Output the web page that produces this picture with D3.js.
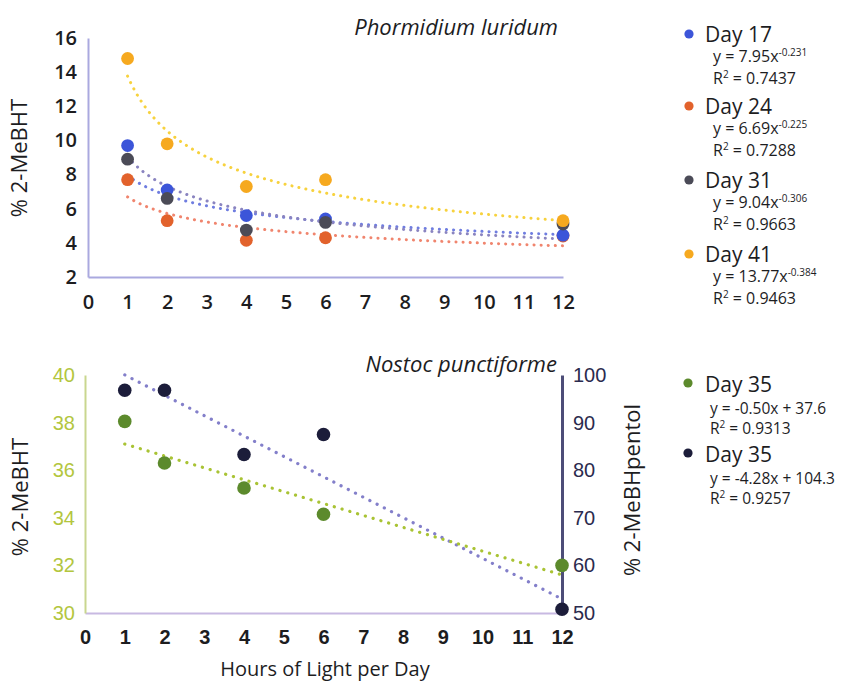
<!DOCTYPE html>
<html>
<head>
<meta charset="utf-8">
<script src="https://cdn.jsdelivr.net/npm/d3@7"></script>
<style>
  html, body { margin: 0; padding: 0; background: #ffffff; }
  svg { display: block; font-family: "Open Sans", "Noto Sans", sans-serif; }
</style>
</head>
<body>
<svg id="chart" width="847" height="683"></svg>
<script>
// ---- Phormidium luridum: % 2-MeBHT by hours of light, four sampling days ----
const hours = [1, 2, 4, 6, 12];
const phormSeries = ["Day 17", "Day 24", "Day 31", "Day 41"];
const day17 = [9.7, 7.1, 5.6, 5.4, 4.45];
const day24 = [7.7, 5.3, 4.15, 4.3, 4.4];
const day31 = [8.9, 6.6, 4.75, 5.2, 5.1];
const day41 = [14.8, 9.8, 7.3, 7.7, 5.3];
// power-law fits y = a * x^b
const powA = [7.95, 6.69, 9.04, 13.77];
const powB = [-0.231, -0.225, -0.306, -0.384];
const powR2 = ["0.7437", "0.7288", "0.9663", "0.9463"];
const phormTicksY = [2, 4, 6, 8, 10, 12, 14, 16];
const xTicks = [0, 1, 2, 3, 4, 5, 6, 7, 8, 9, 10, 11, 12];

// ---- Nostoc punctiforme: Day 35, 2-MeBHT (left) and 2-MeBHpentol (right) ----
const nostocSeries = ["Day 35", "Day 35"];
const nostocMeBHT = [38.05, 36.3, 35.25, 34.15, 32.0];
const nostocPentol = [96.8, 96.8, 83.3, 87.5, 50.8];
// linear fits y = m x + c
const linM = [-0.50, -4.28];
const linC = [37.6, 104.3];
const linR2 = ["0.9313", "0.9257"];
const leftTicks = [30, 32, 34, 36, 38, 40];
const rightTicks = [50, 60, 70, 80, 90, 100];

const svg = d3.select("#chart");
const ink = "#1d1d1f";
const tickWeight = 600;

// ===================== top panel =====================
const xTop = d3.scaleLinear().domain([0, 12]).range([88, 563]);
const yTop = d3.scaleLinear().domain([2, 16]).range([277, 38]);

const topColors = ["#3c55d9", "#e2622c", "#4b4b57", "#f6a91f"];
const topTrend = ["#6f7de0", "#f0856e", "#8a84c0", "#f7d23e"];
const topValues = [day17, day24, day31, day41];

const topX = svg.append("g").attr("transform", `translate(0,${yTop(2)})`)
  .call(d3.axisBottom(xTop).tickValues(xTicks).tickSize(0).tickSizeOuter(0).tickPadding(18).tickFormat(d3.format("d")));
const topY = svg.append("g").attr("transform", `translate(${xTop(0)},0)`)
  .call(d3.axisLeft(yTop).tickValues(phormTicksY).tickSize(0).tickSizeOuter(0).tickPadding(11));
[topX, topY].forEach(g => {
  g.select(".domain").attr("stroke", "#aaa9df").attr("stroke-width", 2);
  g.selectAll("text").attr("fill", ink).attr("font-size", 20)
    .attr("font-family", "Open Sans").attr("font-weight", tickWeight);
});

// fitted curves
const curveXs = d3.range(1, 12.001, 0.1);
const topLine = d3.line().x(d => xTop(d[0])).y(d => yTop(d[1]));
phormSeries.forEach((s, i) => {
  svg.append("path")
    .attr("d", topLine(curveXs.map(x => [x, powA[i] * Math.pow(x, powB[i])])))
    .attr("fill", "none").attr("stroke", topTrend[i]).attr("stroke-width", 3)
    .attr("stroke-linecap", "round").attr("stroke-dasharray", "0.1 7");
});

// points (later days sit on top)
[1, 0, 2, 3].forEach(i => {
  svg.append("g").selectAll("circle").data(hours).join("circle")
    .attr("cx", d => xTop(d))
    .attr("cy", (d, k) => yTop(topValues[i][k]))
    .attr("r", 6.4).attr("fill", topColors[i]);
});

svg.append("text").attr("x", 558).attr("y", 35).attr("text-anchor", "end")
  .attr("font-size", 22).attr("font-style", "italic").attr("fill", ink)
  .text("Phormidium luridum");

svg.append("text").attr("transform", `translate(27,158) rotate(-90)`)
  .attr("text-anchor", "middle").attr("font-size", 22).attr("fill", ink)
  .text("% 2-MeBHT");

// legend for top panel
const legTopY = [34, 106, 180, 254];
phormSeries.forEach((s, i) => {
  const y0 = legTopY[i];
  svg.append("circle").attr("cx", 689).attr("cy", y0).attr("r", 4.6).attr("fill", topColors[i]);
  svg.append("text").attr("x", 705).attr("y", y0 + 7.5).attr("font-size", 21).attr("fill", ink).text(s);
  const eq = svg.append("text").attr("x", 713).attr("y", y0 + 28).attr("font-size", 16).attr("fill", ink);
  eq.append("tspan").text(`y = ${powA[i].toFixed(2)}x`);
  eq.append("tspan").attr("dy", -6).attr("font-size", 10).text(powB[i].toFixed(3));
  const r = svg.append("text").attr("x", 713).attr("y", y0 + 50).attr("font-size", 16).attr("fill", ink);
  r.append("tspan").text("R");
  r.append("tspan").attr("dy", -6).attr("font-size", 10).text("2");
  r.append("tspan").attr("dy", 6).text(` = ${powR2[i]}`);
});

// ===================== bottom panel =====================
const xBot = d3.scaleLinear().domain([0, 12]).range([85, 562]);
const yLeft = d3.scaleLinear().domain([30, 40]).range([613, 375]);
const yRight = d3.scaleLinear().domain([50, 100]).range([613, 375]);

const greenPt = "#5c8a2c", navyPt = "#1c1d3a";
const greenTrend = "#a9c334", navyTrend = "#837fca";

const botX = svg.append("g").attr("transform", `translate(0,${yLeft(30)})`)
  .call(d3.axisBottom(xBot).tickValues(xTicks).tickSize(0).tickSizeOuter(0).tickPadding(17).tickFormat(d3.format("d")));
botX.select(".domain").attr("stroke", "#c8b9e2").attr("stroke-width", 2);
botX.selectAll("text").attr("fill", ink).attr("font-size", 20).attr("font-weight", tickWeight);

const botL = svg.append("g").attr("transform", `translate(${xBot(0)},0)`)
  .call(d3.axisLeft(yLeft).tickValues(leftTicks).tickSize(0).tickSizeOuter(0).tickPadding(10));
botL.select(".domain").attr("stroke", "#c9d68f").attr("stroke-width", 2);
botL.selectAll("text").attr("fill", "#b3c63e").attr("font-size", 20).attr("font-weight", 400);

const botR = svg.append("g").attr("transform", `translate(${xBot(12)},0)`)
  .call(d3.axisRight(yRight).tickValues(rightTicks).tickSize(0).tickSizeOuter(0).tickPadding(11));
botR.select(".domain").attr("stroke", "#4d4d78").attr("stroke-width", 3);
botR.selectAll("text").attr("fill", "#2b2b4e").attr("font-size", 20).attr("font-weight", 500);

const lineL = d3.line().x(d => xBot(d[0])).y(d => yLeft(d[1]));
const lineR = d3.line().x(d => xBot(d[0])).y(d => yRight(d[1]));
svg.append("path")
  .attr("d", lineR([1, 12].map(x => [x, linM[1] * x + linC[1]])))
  .attr("fill", "none").attr("stroke", navyTrend).attr("stroke-width", 3.2)
  .attr("stroke-linecap", "round").attr("stroke-dasharray", "0.1 8");
svg.append("path")
  .attr("d", lineL([1, 12].map(x => [x, linM[0] * x + linC[0]])))
  .attr("fill", "none").attr("stroke", greenTrend).attr("stroke-width", 3.2)
  .attr("stroke-linecap", "round").attr("stroke-dasharray", "0.1 8");

svg.append("g").selectAll("circle").data(hours).join("circle")
  .attr("cx", d => xBot(d)).attr("cy", (d, k) => yLeft(nostocMeBHT[k]))
  .attr("r", 6.8).attr("fill", greenPt);
svg.append("g").selectAll("circle").data(hours).join("circle")
  .attr("cx", d => xBot(d)).attr("cy", (d, k) => yRight(nostocPentol[k]))
  .attr("r", 6.8).attr("fill", navyPt);

svg.append("text").attr("x", 557).attr("y", 372).attr("text-anchor", "end")
  .attr("font-size", 22).attr("font-style", "italic").attr("fill", ink)
  .text("Nostoc punctiforme");

svg.append("text").attr("transform", `translate(28,497) rotate(-90)`)
  .attr("text-anchor", "middle").attr("font-size", 22).attr("fill", ink)
  .text("% 2-MeBHT");
svg.append("text").attr("transform", `translate(640,490) rotate(-90)`)
  .attr("text-anchor", "middle").attr("font-size", 22).attr("fill", ink)
  .text("% 2-MeBHpentol");

svg.append("text").attr("x", 325).attr("y", 676).attr("text-anchor", "middle")
  .attr("font-size", 20).attr("fill", ink).text("Hours of Light per Day");

// legend for bottom panel
const legBotY = [383, 453];
const legBotColors = [greenPt, navyPt];
nostocSeries.forEach((s, i) => {
  const y0 = legBotY[i];
  svg.append("circle").attr("cx", 688).attr("cy", y0).attr("r", 4.6).attr("fill", legBotColors[i]);
  svg.append("text").attr("x", 705).attr("y", y0 + 8.5).attr("font-size", 21).attr("fill", ink).text(s);
  const m = linM[i].toFixed(2), c = linC[i].toFixed(1);
  svg.append("text").attr("x", 710).attr("y", y0 + 31).attr("font-size", 15.5).attr("fill", ink)
    .text(`y = ${m}x + ${c}`);
  const r = svg.append("text").attr("x", 710).attr("y", y0 + 51).attr("font-size", 15.5).attr("fill", ink);
  r.append("tspan").text("R");
  r.append("tspan").attr("dy", -6).attr("font-size", 10).text("2");
  r.append("tspan").attr("dy", 6).text(` = ${linR2[i]}`);
});
</script>
</body>
</html>
